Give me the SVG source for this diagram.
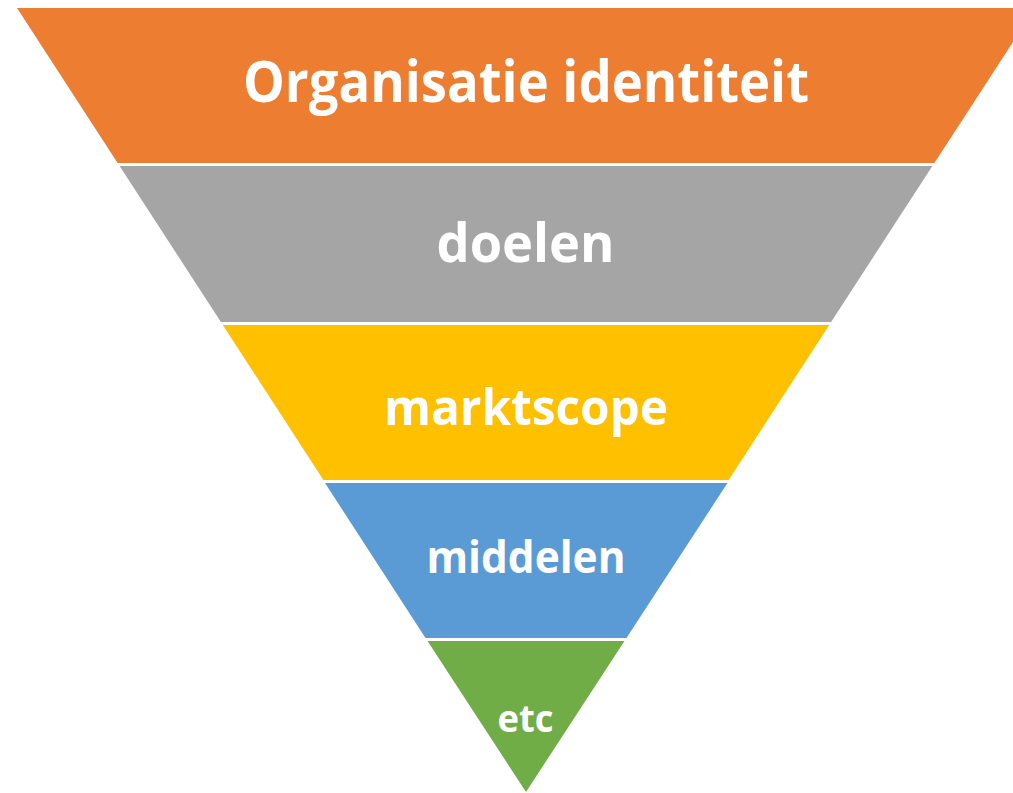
<svg xmlns="http://www.w3.org/2000/svg" width="1013" height="793" viewBox="0 0 1013 793">
<style>
.lbl{font-family:"Open Sans","Liberation Sans",sans-serif;font-weight:700;fill:#ffffff;text-anchor:middle}
</style>
<rect width="1013" height="793" fill="#ffffff"/>
<g id="band-organisatie">
<polygon points="17,8 1035,8 934.4,163 117.6,163" fill="#ED7D31"/>
<text class="lbl" x="526" y="102" font-size="57" textLength="566" lengthAdjust="spacingAndGlyphs">Organisatie identiteit</text>
</g>
<g id="band-doelen">
<polygon points="119.6,166 932.4,166 831.1,322 220.9,322" fill="#A5A5A5"/>
<text class="lbl" x="525.5" y="262" font-size="54" textLength="178" lengthAdjust="spacingAndGlyphs">doelen</text>
</g>
<g id="band-marktscope">
<polygon points="222.8,325 829.2,325 728.6,480 323.4,480" fill="#FFC000"/>
<text class="lbl" x="526" y="425" font-size="50" textLength="284" lengthAdjust="spacingAndGlyphs">marktscope</text>
</g>
<g id="band-middelen">
<polygon points="325,483 727.5,483 626.5,638 425.5,638" fill="#5B9BD5"/>
<text class="lbl" x="526" y="573" font-size="44" textLength="199" lengthAdjust="spacingAndGlyphs">middelen</text>
</g>
<g id="band-etc">
<polygon points="427.5,641 624.5,641 526,792" fill="#70AD47"/>
<text class="lbl" x="525.5" y="731.5" font-size="38" textLength="56" lengthAdjust="spacingAndGlyphs">etc</text>
</g>
<g id="connectors"></g>
</svg>
